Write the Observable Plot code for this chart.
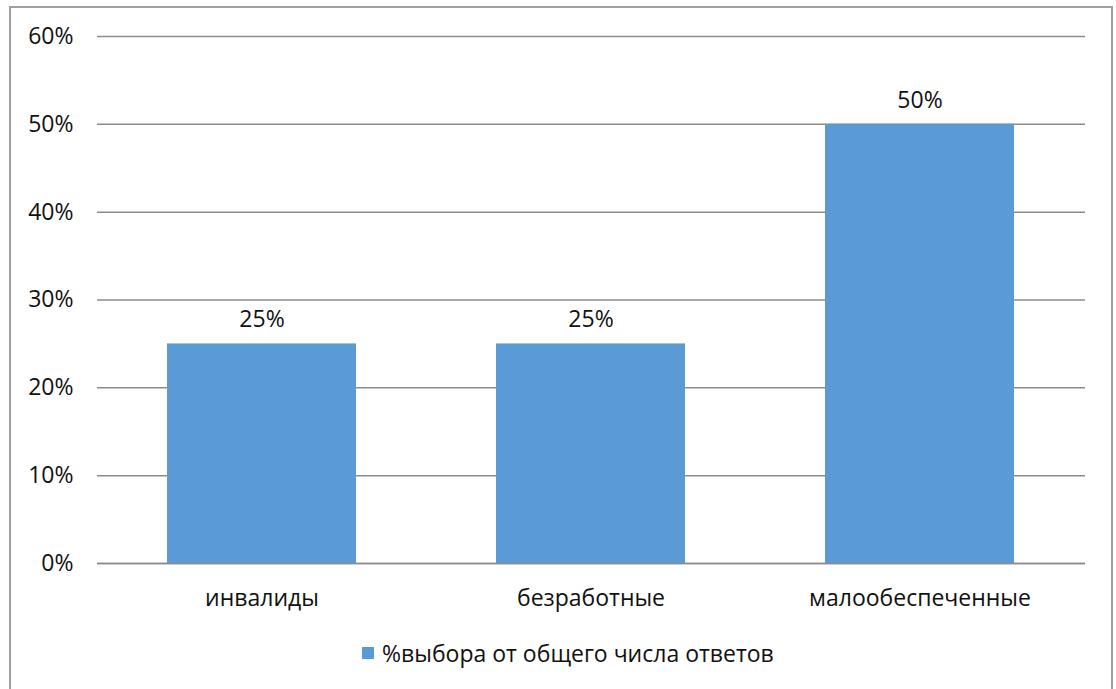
<!DOCTYPE html>
<html>
<head>
<meta charset="utf-8">
<script src="https://cdn.jsdelivr.net/npm/d3@7"></script>
<script src="https://cdn.jsdelivr.net/npm/@observablehq/plot@0.6"></script>
<style>
  body { margin: 0; background: #fff; font-family: "Open Sans", sans-serif; }
  #frame { position: absolute; left: 9px; top: 6px; width: 1104px; height: 700px; border: 2px solid #a0a0a0; box-sizing: border-box; }
  #chart { position: absolute; left: 0; top: 0; }
  #legend { position: absolute; left: 362px; top: 638px; font-size: 23px; line-height: 30px; color: #111; display: flex; align-items: center; white-space: nowrap; }
  #legend .sw { width: 12px; height: 12px; background: #5b9bd5; margin-right: 8px; }
</style>
</head>
<body>
<div id="frame"></div>
<div id="chart"></div>
<div id="legend"><span class="sw"></span><span id="legtext"></span></div>
<script>
const categories = ["инвалиды", "безработные", "малообеспеченные"];
const values = [0.25, 0.25, 0.50];
const yTicks = [0, 0.1, 0.2, 0.3, 0.4, 0.5, 0.6];
const seriesName = "%выбора от общего числа ответов";

const data = categories.map((c, i) => ({category: c, value: values[i]}));
const pct = d3.format(".0%");

const chart = Plot.plot({
  width: 1116,
  height: 630,
  marginTop: 36,
  marginBottom: 67,
  marginLeft: 97,
  marginRight: 31,
  style: {fontFamily: "Open Sans, sans-serif", fontSize: "23px", color: "#111", background: "transparent"},
  x: {domain: categories, paddingInner: 0.425, paddingOuter: 0.2125, label: null, tickSize: 0, tickPadding: 26},
  y: {domain: [0, 0.6], ticks: yTicks, tickFormat: pct, label: null, tickSize: 0, tickPadding: 24},
  marks: [
    Plot.gridY(yTicks, {stroke: "#8c8c8c", strokeOpacity: 1, strokeWidth: 1.5}),
    Plot.barY(data, {x: "category", y: "value", fill: "#5b9bd5"}),
    Plot.axisY({ticks: yTicks, tickFormat: pct, tickSize: 0, tickPadding: 24, fontSize: 23}),
    Plot.axisX({tickSize: 0, tickPadding: 26, fontSize: 23}),
    Plot.text(data, {x: "category", y: "value", text: d => pct(d.value), dy: -24, fontSize: 23, fill: "#111"}),
    Plot.ruleY([0], {stroke: "#8c8c8c", strokeWidth: 1.5})
  ]
});
document.getElementById("chart").appendChild(chart);
document.getElementById("legtext").textContent = seriesName;
</script>
</body>
</html>
